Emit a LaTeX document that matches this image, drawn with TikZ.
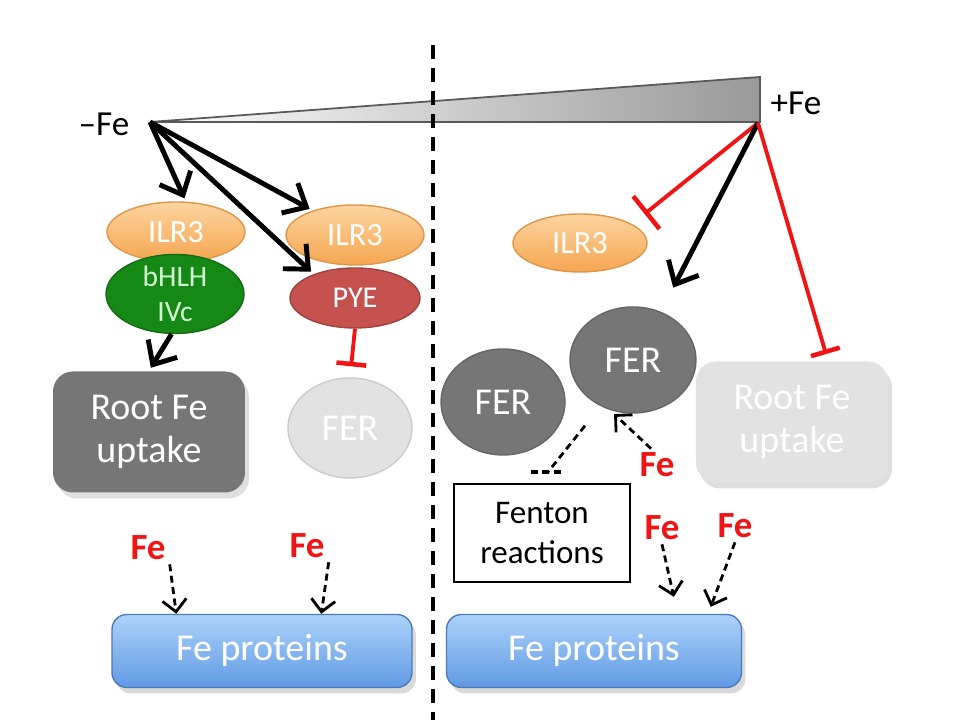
\documentclass[tikz,border=0pt]{standalone}
\usepackage{fontspec}
\setmainfont{Carlito}
\usetikzlibrary{shapes.geometric,arrows.meta,shadows}

\definecolor{ilrtop}{RGB}{253,212,160}
\definecolor{ilrbot}{RGB}{245,166,80}
\definecolor{ilredge}{RGB}{222,150,72}
\definecolor{bhlhcol}{RGB}{22,136,22}
\definecolor{pyecol}{RGB}{198,82,80}
\definecolor{fercol}{RGB}{118,118,118}
\definecolor{fadecol}{RGB}{226,226,226}
\definecolor{protop}{RGB}{172,210,250}
\definecolor{probot}{RGB}{96,154,228}
\definecolor{inhred}{RGB}{240,20,20}

\begin{document}
\begin{tikzpicture}[
    txt/.style = {font=\fontsize{10.8}{12.2}\selectfont, align=center},
    ilr/.style = {ellipse, draw=ilredge, top color=ilrtop, bottom color=ilrbot, text=white, inner sep=0pt,
                  font=\fontsize{9.2}{10}\selectfont, minimum width=1.38cm, minimum height=0.6cm},
    blob/.style = {ellipse, draw=black!60, fill=fercol, text=white, inner sep=0pt, txt},
    box/.style = {rectangle, rounded corners=2mm, fill=fercol, text=white, txt, minimum width=1.92cm, minimum height=1.21cm,
                  drop shadow={opacity=0.25, shadow xshift=0.4mm, shadow yshift=-0.6mm}},
    prot/.style = {rectangle, rounded corners=1.5mm, top color=protop, bottom color=probot, draw=probot!80!black, text=white, txt,
                   minimum height=0.73cm, drop shadow={opacity=0.3, shadow xshift=0.4mm, shadow yshift=-0.6mm}},
    fe/.style = {text=inhred, font=\bfseries\fontsize{10.5}{12}\selectfont, inner sep=1pt},
    act/.style = {line width=1.4pt, -{Straight Barb[length=1.9mm, width=3.4mm]}, shorten >=1pt},
    inh/.style = {draw=inhred, line width=1.1pt, -{Bar[width=3mm, line width=1.3pt]}},
    feact/.style = {dash pattern=on 0.7mm off 0.45mm, line width=0.8pt, -{Straight Barb[length=1.2mm, width=2.4mm]}}
]
\useasboundingbox (0,0) rectangle (9.6,7.2);

% iron gradient
\coordinate (lo) at (1.50,5.98);
\coordinate (hi) at (7.58,5.97);
\shade[left color=white, right color=black!40, draw=black!65, line width=0.5pt] (lo) -- (7.60,6.43) -- (7.60,5.98) -- cycle;
\node[font=\fontsize{10}{12}\selectfont, inner sep=1pt] (minus) at (1.04,5.96) {–Fe};
\node[font=\fontsize{10}{12}\selectfont, inner sep=1pt] (plus) at (7.96,6.17) {+Fe};

% divider
\coordinate (divtop) at (4.33,6.75);
\coordinate (divbot) at (4.33,0);
\draw[line width=0.9pt, dash pattern=on 1.4mm off 0.9mm] (divtop) -- (divbot);

% low iron
\node[ilr] (ilrA) at (1.76,4.88) {ILR3};
\node[ellipse, fill=bhlhcol, draw=bhlhcol!80!black, text=white!82!green, inner sep=0pt,
      font=\fontsize{8.4}{10}\selectfont, align=center, minimum width=1.38cm, minimum height=0.64cm] (bhlh) at (1.75,4.26) {bHLH\\IVc};
\node[ilr] (ilrB) at (3.55,4.85) {ILR3};
\node[ellipse, fill=pyecol, draw=pyecol!80!black, text=white, inner sep=0pt, font=\fontsize{8.6}{10}\selectfont,
      minimum width=1.30cm, minimum height=0.60cm] (pye) at (3.55,4.22) {PYE};
\node[box] (rootA) at (1.49,2.88) {Root Fe\\uptake};
\node[blob, fill=fadecol, draw=fadecol!90!black, minimum width=1.24cm, minimum height=1.0cm] (ferA) at (3.50,2.92) {FER};
\node[prot, minimum width=3.0cm] (protA) at (2.62,0.69) {Fe proteins};
\node[fe] (feA1) at (1.48,1.72) {Fe};
\node[fe] (feA2) at (3.07,1.74) {Fe};

\draw[act] (lo) -- (ilrA.72);
\draw[act] (lo) -- (ilrB.150);
\draw[act] (lo) -- (pye.150);
\draw[act] (bhlh.265) -- (rootA.north);
\draw[inh, shorten >=1.1mm] (pye.south) -- (ferA.north);
\draw[feact] (feA1.south east) -- ([xshift=6.5mm]protA.north west);
\draw[feact] (feA2.south east) -- ([xshift=21mm]protA.north west);

% high iron
\node[ilr, minimum width=1.34cm, minimum height=0.58cm] (ilrC) at (5.80,4.77) {ILR3};
\node[blob, minimum width=1.26cm, minimum height=1.06cm] (ferB) at (6.33,3.60) {FER};
\node[blob, minimum width=1.24cm, minimum height=1.06cm] (ferC) at (5.03,3.18) {FER};
\node[box, fill=fadecol] (rootB) at (7.92,2.98) {Root Fe\\uptake};
\node[rectangle, draw, line width=0.8pt, align=center, font=\fontsize{9.4}{11.4}\selectfont,
      minimum width=1.76cm, minimum height=0.98cm] (fenton) at (5.42,1.87) {Fenton\\reactions};
\node[prot, minimum width=2.95cm] (protB) at (5.94,0.69) {Fe proteins};
\node[fe] (feB) at (6.57,2.55) {Fe};
\node[fe] (feC1) at (6.62,1.92) {Fe};
\node[fe] (feC2) at (7.35,1.94) {Fe};

\draw[inh, -{Bar[width=4.2mm, line width=1.3pt]}, shorten >=1.6mm] (hi) -- (ilrC.20);
\draw[act, shorten >=2.7mm] (hi) -- (ferB.60);
\draw[inh, shorten >=0.7mm] (hi) -- ([xshift=3.6mm]rootB.north);

\coordinate (fstop) at (5.48,2.48);
\draw[dash pattern=on 0.7mm off 0.45mm, line width=0.8pt, shorten <=2.5mm] (ferB.235) -- (fstop);
\draw[dash pattern=on 0.7mm off 0.45mm, line width=0.9pt] ([xshift=-1.7mm]fstop) -- ([xshift=1.7mm]fstop);
\draw[feact, shorten >=0.6mm] (feB.110) -- (ferB.245);
\draw[feact] (feC1.south) -- ([xshift=22.8mm, yshift=1.7mm]protB.north west);
\draw[feact] (feC2.south) -- ([xshift=26.5mm, yshift=0.7mm]protB.north west);
\end{tikzpicture}
\end{document}
